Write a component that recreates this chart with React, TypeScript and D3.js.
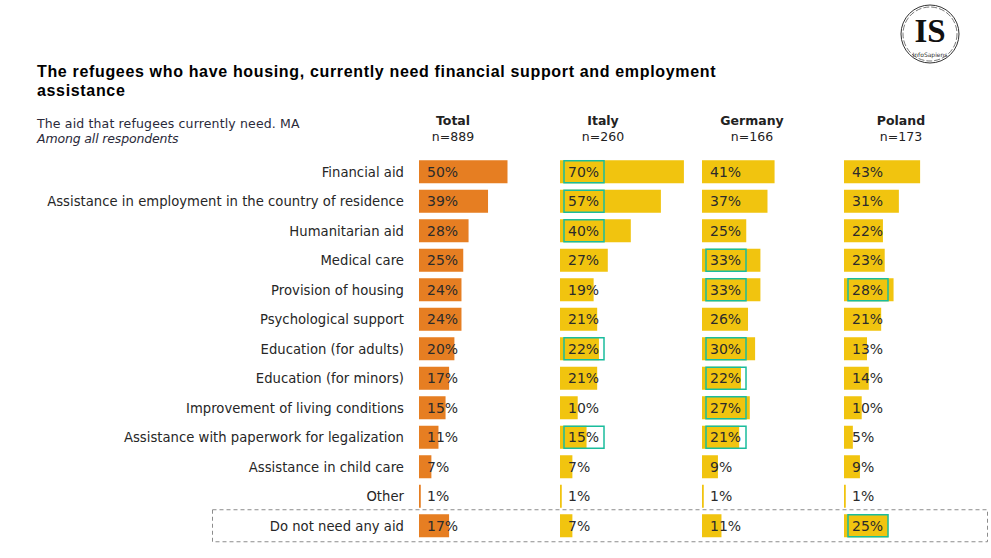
import React from "react";
import * as d3 from "d3";

const categories = [
  "Financial aid",
  "Assistance in employment in the country of residence",
  "Humanitarian aid",
  "Medical care",
  "Provision of housing",
  "Psychological support",
  "Education (for adults)",
  "Education (for minors)",
  "Improvement of living conditions",
  "Assistance with paperwork for legalization",
  "Assistance in child care",
  "Other",
  "Do not need any aid",
];

const groups = ["Total", "Italy", "Germany", "Poland"];
const sampleSizes = ["n=889", "n=260", "n=166", "n=173"];

const totalValues = [50, 39, 28, 25, 24, 24, 20, 17, 15, 11, 7, 1, 17];
const italyValues = [70, 57, 40, 27, 19, 21, 22, 21, 10, 15, 7, 1, 7];
const germanyValues = [41, 37, 25, 33, 33, 26, 30, 22, 27, 21, 9, 1, 11];
const polandValues = [43, 31, 22, 23, 28, 21, 13, 14, 10, 5, 9, 1, 25];

// categories highlighted with a box (significantly higher)
const italyHighlights = ["Financial aid", "Assistance in employment in the country of residence", "Humanitarian aid", "Education (for adults)", "Assistance with paperwork for legalization"];
const germanyHighlights = ["Medical care", "Provision of housing", "Education (for adults)", "Education (for minors)", "Improvement of living conditions", "Assistance with paperwork for legalization"];
const polandHighlights = ["Provision of housing", "Do not need any aid"];

const series = [totalValues, italyValues, germanyValues, polandValues];
const highlights = [[], italyHighlights, germanyHighlights, polandHighlights];

const title1 = "The refugees who have housing, currently need financial support and employment";
const title2 = "assistance";
const subtitle = "The aid that refugees currently need. MA";
const subtitle2 = "Among all respondents";

const W = 991;
const H = 558;
const FONT = "'DejaVu Sans', Verdana, sans-serif";

export default function App() {
  const colStarts = [419, 560, 702, 844];
  const headerX = [453, 603, 752, 901];
  const x = d3.scaleLinear().domain([0, 100]).range([0, 177]);
  const y = d3
    .scaleBand()
    .domain(categories)
    .range([157, 157 + 29.5 * categories.length])
    .paddingInner(0.22)
    .paddingOuter(0.11);
  const bh = y.bandwidth();

  return (
    <svg
      width={W}
      height={H}
      style={{ position: "absolute", left: 0, top: 0, background: "#fff" }}
      fontFamily={FONT}
    >
      {/* title */}
      <text x={37} y={77} fontFamily="'Liberation Sans', Arial, sans-serif" fontWeight="bold" fontSize={16} fill="#000" letterSpacing={0.66}>
        {title1}
      </text>
      <text x={37} y={95.5} fontFamily="'Liberation Sans', Arial, sans-serif" fontWeight="bold" fontSize={16} fill="#000" letterSpacing={0.66}>
        {title2}
      </text>
      <text x={37} y={128} fontSize={12.5} fill="#2a2a3a" letterSpacing={0.15}>
        {subtitle}
      </text>
      <text x={37} y={142.5} fontSize={12.5} fill="#2a2a3a" fontStyle="italic" letterSpacing={-0.15}>
        {subtitle2}
      </text>

      {/* headers */}
      {groups.map((g, i) => (
        <g key={g}>
          <text x={headerX[i]} y={125} textAnchor="middle" fontWeight="bold" fontSize={12.5} fill="#222">
            {g}
          </text>
          <text x={headerX[i]} y={141} textAnchor="middle" fontSize={12.5} fill="#222">
            {sampleSizes[i]}
          </text>
        </g>
      ))}

      {/* dashed box for last row */}
      <rect
        x={212.5}
        y={(y("Do not need any aid") as number) - 4.5}
        width={775}
        height={bh + 9}
        fill="none"
        stroke="#8c8c8c"
        strokeDasharray="4,3"
        strokeWidth={1}
      />

      {/* row labels */}
      {categories.map((c) => (
        <text
          key={c}
          x={404}
          y={(y(c) as number) + bh / 2 + 5}
          textAnchor="end"
          fontSize={13.2}
          fill="#262626"
          letterSpacing={0.02}
        >
          {c}
        </text>
      ))}

      {/* bars */}
      {series.map((vals, gi) => (
        <g key={groups[gi]} transform={`translate(${colStarts[gi]},0)`}>
          {categories.map((c, ci) => {
            const yy = y(c) as number;
            const hl = (highlights[gi] as string[]).includes(c);
            return (
              <g key={c}>
                <rect
                  x={0}
                  y={yy}
                  width={x(vals[ci])}
                  height={bh}
                  fill={gi === 0 ? "#e67e22" : "#f1c40f"}
                />
                {hl && (
                  <rect
                    x={4}
                    y={yy + 0.5}
                    width={40}
                    height={bh - 1}
                    fill="none"
                    stroke="#1abc9c"
                    strokeWidth={1.5}
                  />
                )}
                <text x={8} y={yy + bh / 2 + 5} fontSize={14} fill="#2b2b2b">
                  {`${vals[ci]}%`}
                </text>
              </g>
            );
          })}
        </g>
      ))}

      {/* logo */}
      <g transform="translate(930,34)">
        <circle r={29} fill="none" stroke="#333" strokeWidth={1} />
        <circle r={27} fill="none" stroke="#555" strokeWidth={0.8} strokeDasharray="6,2" />
        <text x={0} y={8} textAnchor="middle" fontFamily="'Liberation Serif', 'DejaVu Serif', serif" fontWeight="bold" fontSize={33} fill="#111">
          IS
        </text>
        <text x={0} y={22.5} textAnchor="middle" fontSize={6} fill="#333">
          InfoSapiens
        </text>
      </g>
    </svg>
  );
}
